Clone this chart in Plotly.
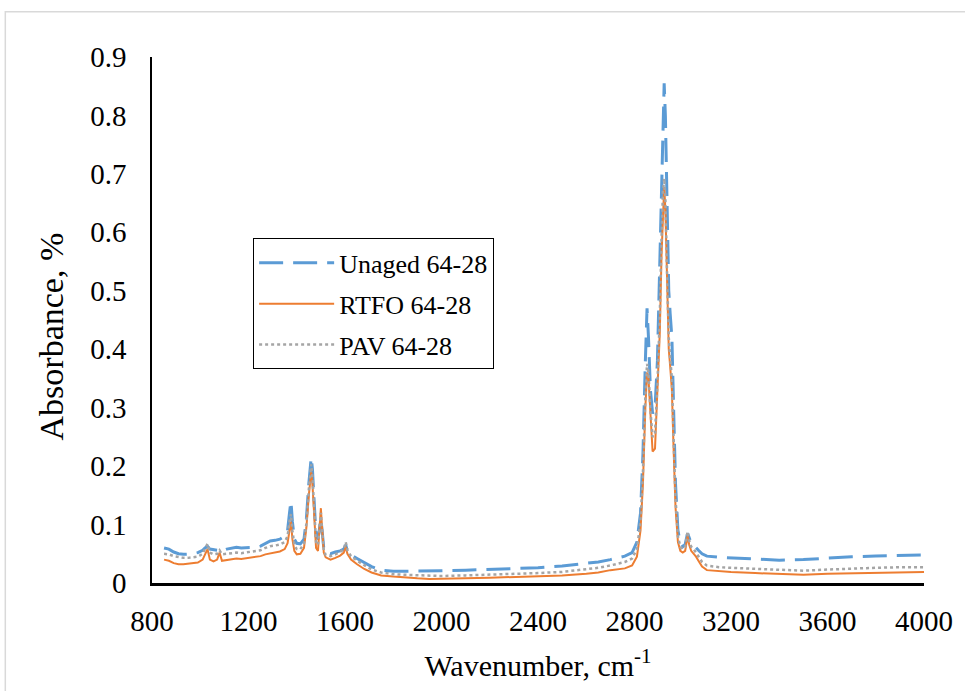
import plotly.graph_objects as go

wavenumber = [
    850, 870, 890, 910, 930, 950, 970, 990, 1010, 1020,
    1030, 1040, 1055, 1070, 1080, 1090, 1110, 1130, 1150, 1170,
    1190, 1210, 1230, 1250, 1270, 1290, 1310, 1330, 1350, 1362,
    1370, 1376, 1382, 1390, 1400, 1415, 1430, 1440, 1450, 1456,
    1460, 1465, 1472, 1480, 1488, 1495, 1500, 1505, 1512, 1520,
    1540, 1560, 1580, 1595, 1603, 1610, 1625, 1650, 1680, 1710,
    1750, 1800, 1850, 1900, 1950, 2000, 2100, 2200, 2300, 2400,
    2500, 2600, 2650, 2700, 2730, 2760, 2790, 2810, 2825, 2835,
    2845, 2852, 2858, 2866, 2875, 2885, 2895, 2905, 2912, 2918,
    2923, 2928, 2935, 2942, 2948, 2955, 2962, 2970, 2980, 2990,
    3000, 3010, 3020, 3027, 3035, 3045, 3055, 3065, 3080, 3100,
    3150, 3200, 3300, 3400, 3500, 3600, 3700, 3800, 3900, 4000,
]

unaged = [
    .060, .058, .053, .050, .049, .049, .050, .052, .056, .060,
    .063, .058, .057, .056, .058, .055, .058, .060, .061, .060,
    .060, .060, .061, .063, .068, .072, .073, .075, .080, .090,
    .120, .140, .105, .075, .068, .067, .075, .110, .170, .205,
    .215, .195, .140, .080, .075, .095, .110, .090, .060, .052,
    .050, .053, .055, .058, .065, .055, .048, .042, .035, .028,
    .022, .020, .020, .020, .020, .021, .022, .023, .024, .026,
    .029, .033, .036, .040, .043, .046, .052, .070, .120, .220,
    .380, .470, .420, .330, .290, .300, .380, .550, .700, .810,
    .855, .800, .640, .500, .460, .420, .300, .170, .090, .068,
    .062, .066, .085, .075, .068, .065, .060, .056, .050, .046,
    .044, .043, .041, .039, .040, .043, .045, .046, .047, .048,
]

rtfo = [
    .040, .038, .034, .032, .032, .033, .033, .035, .040, .048,
    .058, .040, .037, .040, .052, .038, .039, .041, .042, .041,
    .042, .043, .044, .046, .049, .051, .052, .054, .058, .068,
    .090, .105, .075, .055, .049, .050, .060, .095, .150, .183,
    .190, .170, .115, .060, .055, .100, .128, .095, .052, .044,
    .040, .043, .047, .052, .062, .050, .040, .032, .024, .018,
    .013, .011, .009, .008, .007, .007, .008, .009, .010, .011,
    .013, .016, .018, .022, .023, .025, .030, .045, .090, .170,
    .300, .360, .350, .280, .225, .230, .320, .430, .560, .650,
    .678, .640, .500, .400, .370, .330, .230, .130, .070, .055,
    .052, .055, .080, .065, .055, .050, .045, .038, .028, .022,
    .020, .019, .017, .015, .014, .016, .017, .018, .019, .019,
]

pav = [
    .050, .049, .046, .044, .043, .043, .044, .045, .050, .058,
    .067, .052, .049, .050, .056, .049, .050, .051, .052, .051,
    .052, .053, .054, .056, .060, .063, .064, .066, .070, .080,
    .105, .118, .090, .065, .058, .058, .068, .102, .160, .195,
    .203, .182, .128, .070, .065, .098, .120, .090, .056, .048,
    .046, .049, .053, .058, .070, .056, .046, .038, .030, .023,
    .018, .015, .014, .013, .012, .012, .013, .014, .015, .017,
    .019, .023, .026, .030, .033, .036, .042, .058, .105, .190,
    .320, .375, .360, .295, .250, .255, .340, .460, .590, .670,
    .692, .660, .530, .420, .385, .350, .250, .145, .080, .062,
    .058, .062, .088, .072, .062, .058, .052, .046, .036, .030,
    .027, .026, .024, .022, .021, .023, .025, .026, .027, .027,
]

x_ticks = [800, 1200, 1600, 2000, 2400, 2800, 3200, 3600, 4000]
y_ticks = [0, 0.1, 0.2, 0.3, 0.4, 0.5, 0.6, 0.7, 0.8, 0.9]
y_tick_text = ["0", "0.1", "0.2", "0.3", "0.4", "0.5", "0.6", "0.7", "0.8", "0.9"]

FONT = "Liberation Serif, Times New Roman, serif"

fig = go.Figure()
fig.add_trace(go.Scatter(
    x=wavenumber, y=unaged, mode="lines", name="Unaged 64-28", legendgroup="a",
    line=dict(color="#5B9BD5", width=3, dash="24px,10px"),
))
fig.add_trace(go.Scatter(
    x=wavenumber, y=rtfo, mode="lines", name="RTFO 64-28", legendgroup="b",
    line=dict(color="#ED7D31", width=2),
))
fig.add_trace(go.Scatter(
    x=wavenumber, y=pav, mode="lines", name="PAV 64-28", legendgroup="c",
    line=dict(color="#A5A5A5", width=2.5, dash="dot"),
))

fig.update_layout(
    width=965, height=691,
    margin=dict(l=152, r=38, t=57, b=108),
    paper_bgcolor="white", plot_bgcolor="white",
    font=dict(family=FONT, color="black"),
    showlegend=True,
    legend=dict(
        x=0.131, y=0.655, xanchor="left", yanchor="top",
        bordercolor="black", borderwidth=1, bgcolor="white",
        font=dict(family=FONT, size=26, color="black"),
        tracegroupgap=4, itemwidth=75,
    ),
    xaxis=dict(
        range=[800, 4000], tickvals=x_ticks, showgrid=False, zeroline=False,
        showline=True, linecolor="black", linewidth=2.5,
        ticks="", ticklabelstandoff=10,
        tickfont=dict(family=FONT, size=29, color="black"),
        title=dict(text="Wavenumber, cm<sup>-1</sup>", standoff=20,
                   font=dict(family=FONT, size=30, color="black")),
    ),
    yaxis=dict(
        range=[0, 0.9], tickvals=y_ticks, ticktext=y_tick_text,
        showgrid=False, zeroline=False,
        showline=True, linecolor="black", linewidth=1.5,
        ticks="", ticklabelstandoff=18,
        tickfont=dict(family=FONT, size=29, color="black"),
    ),
    annotations=[dict(
        text="Absorbance, %", textangle=-90, showarrow=False,
        xref="paper", yref="paper", x=-0.130, y=0.468,
        xanchor="center", yanchor="middle",
        font=dict(family=FONT, size=34, color="black"),
    )],
    shapes=[dict(
        type="rect", xref="paper", yref="paper",
        x0=-0.19, y0=-0.21, x1=1.06, y1=1.086,
        line=dict(color="#D9D9D9", width=1.5), layer="below",
    )],
)

fig.write_html("out.html")
